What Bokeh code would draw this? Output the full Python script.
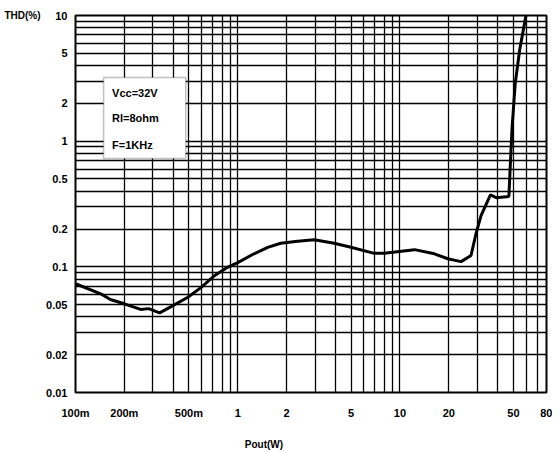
from bokeh.plotting import figure
from bokeh.models import FixedTicker, Label, BoxAnnotation, LogAxis
from bokeh.embed import file_html
from bokeh.resources import INLINE

# ---- data ----
pout = [0.1, 0.143, 0.164, 0.2, 0.252, 0.282, 0.33, 0.386, 0.49, 0.59, 0.71, 0.87,
        1.0, 1.26, 1.53, 1.84, 2.34, 2.96, 3.93, 4.98, 6.94, 8.0, 12.3, 16.3, 19.7,
        23.8, 27.4, 29.4, 31.6, 36.1, 39.2, 46.9, 48.0, 49.1, 51.3, 54.6, 60.0]
thd = [0.0734, 0.061, 0.055, 0.0508, 0.0458, 0.0465, 0.043, 0.048, 0.057, 0.068, 0.084, 0.0995,
       0.108, 0.127, 0.143, 0.154, 0.16, 0.164, 0.154, 0.143, 0.128, 0.128, 0.137, 0.127, 0.116,
       0.11, 0.123, 0.183, 0.256, 0.374, 0.355, 0.363, 0.70, 1.29, 2.86, 5.27, 10.3]

x_ticks = [0.1, 0.2, 0.5, 1, 2, 5, 10, 20, 50, 80]
x_tick_labels = ["100m", "200m", "500m", "1", "2", "5", "10", "20", "50", "80"]
y_ticks = [0.01, 0.02, 0.05, 0.1, 0.2, 0.5, 1, 2, 5, 10]
y_tick_labels = ["0.01", "0.02", "0.05", "0.1", "0.2", "0.5", "1", "2", "5", "10"]
conditions = ["Vcc=32V", "Rl=8ohm", "F=1KHz"]
y_title = "THD(%)"
x_title = "Pout(W)"

FONT = "'Liberation Sans Narrow', 'Liberation Sans', Arial, sans-serif"

p = figure(width=552, height=452, x_axis_type="log", y_axis_type="log",
           x_range=(0.1, 80), y_range=(0.01, 10),
           output_backend="svg", toolbar_location=None,
           min_border_left=75, min_border_right=6, min_border_top=15, min_border_bottom=60)
p.background_fill_color = "white"
p.border_fill_color = "white"
p.outline_line_color = "black"
p.outline_line_width = 2

# grid lines at 1..9 per decade
xgrid = []
ygrid = []
for dec in [0.1, 1, 10]:
    for m in range(1, 10):
        v = round(dec * m, 6)
        if 0.1 <= v <= 80:
            xgrid.append(v)
for dec in [0.01, 0.1, 1]:
    for m in range(1, 10):
        ygrid.append(round(dec * m, 6))
ygrid.append(10)

p.xgrid.ticker = FixedTicker(ticks=xgrid)
p.ygrid.ticker = FixedTicker(ticks=ygrid)
for g in (p.xgrid, p.ygrid):
    g.grid_line_color = "black"
    g.grid_line_width = 1.3
    g.grid_line_alpha = 1.0


def style_axis(ax, size="11px"):
    ax.major_tick_line_color = None
    ax.minor_tick_line_color = None
    ax.major_tick_out = 0
    ax.major_tick_in = 0
    ax.minor_tick_out = 0
    ax.minor_tick_in = 0
    ax.axis_line_color = None
    ax.major_label_text_font = FONT
    ax.major_label_text_font_style = "bold"
    ax.major_label_text_font_size = size
    ax.major_label_text_color = "black"


for ax, ticks, labels in ((p.xaxis[0], x_ticks, x_tick_labels), (p.yaxis[0], y_ticks, y_tick_labels)):
    ax.ticker = FixedTicker(ticks=ticks)
    ax.major_label_overrides = {t: l for t, l in zip(ticks, labels)}
    style_axis(ax)

p.xaxis[0].major_label_standoff = 14
p.yaxis[0].major_label_standoff = 8

# axis titles as extra label-only axes (positions in data coordinates)
y_title_at = 10
x_title_at = 1.45
ytitle_axis = LogAxis(ticker=FixedTicker(ticks=[y_title_at]),
                      major_label_overrides={y_title_at: y_title})
style_axis(ytitle_axis, "10px")
ytitle_axis.major_label_standoff = 3
p.add_layout(ytitle_axis, "left")

xtitle_axis = LogAxis(ticker=FixedTicker(ticks=[x_title_at]),
                      major_label_overrides={x_title_at: x_title})
style_axis(xtitle_axis, "10px")
xtitle_axis.major_label_standoff = 17
p.add_layout(xtitle_axis, "below")

p.line(pout, thd, line_color="black", line_width=3)

# condition box
p.add_layout(BoxAnnotation(left=0.149, right=0.478, top=3.21, bottom=0.728,
                           fill_color="white", fill_alpha=1.0,
                           line_color="#333333", line_width=1.5, level="annotation"))
for txt, yv in zip(conditions, [2.41, 1.52, 0.94]):
    p.add_layout(Label(x=0.168, y=yv, text=txt, text_baseline="middle", text_align="left",
                       text_font=FONT, text_font_style="bold", text_font_size="11px",
                       text_color="black"))

open("out.html", "w").write(file_html(p, INLINE))
